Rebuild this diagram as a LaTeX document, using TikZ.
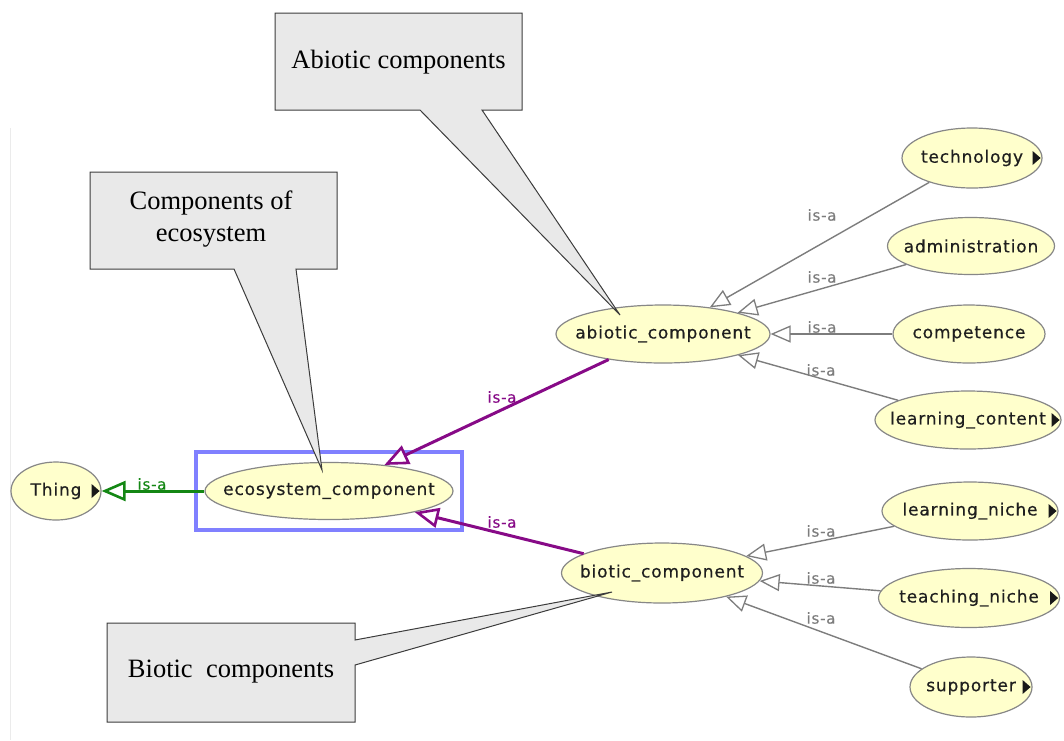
\documentclass[tikz,border=0pt]{standalone}
\usepackage{fontspec}
\setmainfont{Liberation Serif}
\newfontfamily\graphfont{DejaVu Sans}[LetterSpace=5,FakeBold=0.5]
\usetikzlibrary{shapes.geometric,arrows.meta,fit,backgrounds}

\definecolor{classfill}{RGB}{255,255,204}
\definecolor{classline}{RGB}{135,135,135}
\definecolor{isagreen}{RGB}{20,135,20}
\definecolor{isapurple}{RGB}{135,10,135}
\definecolor{isagray}{RGB}{125,125,125}
\definecolor{selblue}{RGB}{128,128,255}
\definecolor{notefill}{RGB}{233,233,233}
\definecolor{noteline}{RGB}{60,60,60}

\tikzset{
  cls/.style={ellipse, draw=classline, line width=1.2pt, fill=classfill,
    inner sep=0pt, text=black!88,
    font=\graphfont\fontsize{17}{17}\selectfont},
  isa/.style={draw=isagray, line width=1.4pt,
    -{Triangle[open, fill=white, length=20pt, width=17pt, line width=1.3pt]}},
  isatop/.style={line width=3pt,
    -{Triangle[open, fill=white, length=24pt, width=20pt, line width=2.6pt]}},
  isalbl/.style={inner sep=0pt, text=isagray,
    font=\graphfont\fontsize{15}{15}\selectfont},
  notebox/.style={fill=notefill, draw=noteline, line width=1pt, line join=miter},
  notetext/.style={inner sep=0pt, align=center,
    font=\fontsize{26.5}{32}\selectfont},
}

% class name set in a zero-width box so the ellipse keeps its given size
\newcommand\cname[1]{\makebox[0pt]{#1}}

% small black triangle marking a class with hidden subclasses
\newcommand\hiddenmark[1]{%
  \fill[black!90] ([xshift=-10pt]#1.east) ++(0,-7) -- ++(0,14) -- ++(8,-7) -- cycle;}

\begin{document}
\begin{tikzpicture}[x=1pt,y=-1pt]
\useasboundingbox (0,0) rectangle (1064,740);

% panel edge
\draw[black!8, line width=1pt] (10,128) -- (10,740);

% class nodes
\node[cls, minimum width=90pt,  minimum height=58pt] (thing) at (56,491) {\cname{Thing}};
\node[cls, minimum width=248pt, minimum height=57pt] (eco)   at (329,491) {\cname{ecosystem\_component}};
\node[cls, minimum width=214pt, minimum height=58pt] (abio)  at (663,334) {\cname{abiotic\_component}};
\node[cls, minimum width=201pt, minimum height=60pt] (bio)   at (662,573) {\cname{biotic\_component}};
\node[cls, minimum width=140pt, minimum height=60pt] (tech)  at (972,158) {\cname{technology}};
\node[cls, minimum width=167pt, minimum height=57pt] (admin) at (971,246) {\cname{administration}};
\node[cls, minimum width=152pt, minimum height=58pt] (comp)  at (969,334) {\cname{competence}};
\node[cls, minimum width=186pt, minimum height=58pt] (lcont) at (968,420) {\cname{learning\_content}};
\node[cls, minimum width=176pt, minimum height=58pt] (lniche) at (970,511) {\cname{learning\_niche}};
\node[cls, minimum width=181pt, minimum height=59pt] (tniche) at (969,598) {\cname{teaching\_niche}};
\node[cls, minimum width=122pt, minimum height=60pt] (supp)  at (971,687) {\cname{supporter}};

\hiddenmark{thing}
\hiddenmark{tech}
\hiddenmark{lcont}
\hiddenmark{lniche}
\hiddenmark{tniche}
\hiddenmark{supp}

% selection frame
\begin{scope}[on background layer]
  \node[draw=selblue, line width=4pt, inner xsep=8pt, inner ysep=10pt, fit=(eco)] (sel) {};
\end{scope}

% is-a relations
\draw[isatop, isagreen] (eco) -- (thing);
\draw[isatop, isapurple] (abio) -- (eco);
\draw[isatop, isapurple] (bio) -- (eco);
\draw[isa] (tech) -- (abio);
\draw[isa] (admin) -- (abio);
\draw[isa] (comp) -- (abio);
\draw[isa] (lcont) -- (abio);
\draw[isa] (lniche) -- (bio);
\draw[isa] (tniche) -- (bio);
\draw[isa] (supp) -- (bio);

% relation labels
\node[isalbl, text=isagreen]  (l0) at (152,484) {is-a};
\node[isalbl, text=isapurple] (l1) at (502,397) {is-a};
\node[isalbl, text=isapurple] (l2) at (502,522) {is-a};
\node[isalbl] (l3) at (822,215) {is-a};
\node[isalbl] (l4) at (822,277) {is-a};
\node[isalbl] (l5) at (822,327) {is-a};
\node[isalbl] (l6) at (821,370) {is-a};
\node[isalbl] (l7) at (821,531) {is-a};
\node[isalbl] (l8) at (821,578) {is-a};
\node[isalbl] (l9) at (821,618) {is-a};

% callout: abiotic
\coordinate (abtip) at (620,315);
\path[notebox] (275,13) -- (522,13) -- (522,110) -- (482,110) -- (abtip)
  -- (420,110) -- (275,110) -- cycle;
\node[notetext] (abnote) at (398.5,62) {Abiotic components};

% callout: ecosystem
\coordinate (ecotip) at (322,470);
\path[notebox] (90,172) -- (337,172) -- (337,269) -- (296,269) -- (ecotip)
  -- (234,269) -- (90,269) -- cycle;
\node[notetext] (econote) at (211,219) {Components of\\ecosystem};

% callout: biotic
\coordinate (biotip) at (612,592);
\path[notebox] (107,623) -- (355,623) -- (355,640) -- (biotip)
  -- (355,665) -- (355,722) -- (107,722) -- cycle;
\node[notetext] (bionote) at (231,672) {Biotic\ \ components};

\end{tikzpicture}
\end{document}
